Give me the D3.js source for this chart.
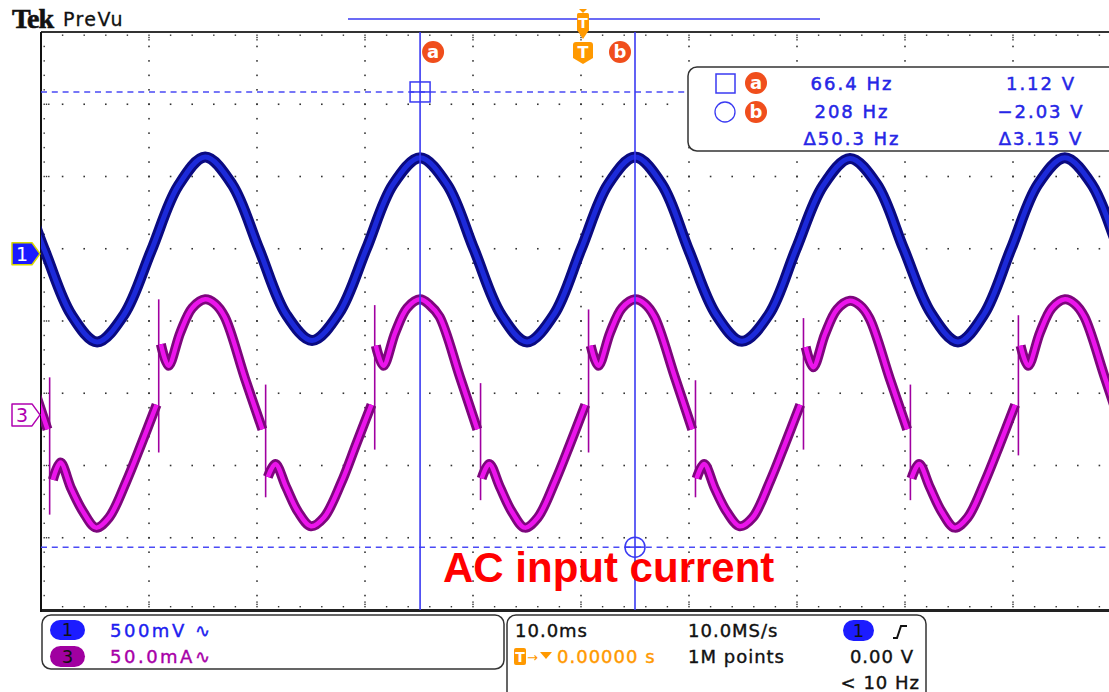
<!DOCTYPE html>
<html>
<head>
<meta charset="utf-8">
<script src="https://cdn.jsdelivr.net/npm/d3@7"></script>
<style>
body { margin: 0; background: #fff; }
svg { display: block; }
text { font-family: "DejaVu Sans", sans-serif; }
</style>
</head>
<body>
<svg id="scope" width="1109" height="692"></svg>
<script>
// scope settings
const msPerDiv = 10;
const ch1VoltsPerDiv = 0.5;
const ch3MaPerDiv = 50;
const ch1Pos = 0.93;    // divisions above centre
const ch3Pos = -1.30;

// channel 1 (blue), time in ms, volts
const blueT = [-54.7,-52.2,-49.7,-47.2,-44.8,-42.3,-39.8,-37.3,-34.8,-32.3,-29.8,-27.3,-24.9,-22.4,-19.9,-17.4,
  -14.9,-12.4,-9.9,-7.4,-5.0,-2.5,0.0,2.5,5.0,7.5,10.0,12.5,14.9,17.4,19.9,22.4,24.9,27.4,29.9,32.4,34.9,37.3,
  39.8,42.3,44.8,47.3,49.8,52.3,54.7];
const blueV = [0.66,0.48,0.03,-0.42,-0.61,-0.42,0.02,0.47,0.67,
  0.48,0.03,-0.42,-0.60,-0.41,0.03,0.48,0.665,
  0.48,0.03,-0.42,-0.61,-0.42,0.03,0.48,0.67,
  0.48,0.02,-0.42,-0.605,-0.42,0.03,0.47,0.66,
  0.48,0.03,-0.41,-0.61,-0.42,0.03,0.48,0.665,
  0.48,0.03,-0.42,-0.61];

// channel 3 (magenta), time in ms, mA ; null = break at the switching step
const magT = [-53.8,-52.9,-51.0,-49.4, null,
  -48.9,-48.2,-47.2,-46.1,-44.9,-43.7,-42.1,-40.7,-39.3, null,
  -38.9,-38.2,-37.1,-36.0,-34.8,-33.9,-33.0,-31.1,-29.5, null,
  -29.0,-28.3,-27.3,-26.2,-25.0,-23.8,-22.2,-20.8,-19.4, null,
  -19.0,-18.3,-17.2,-16.1,-14.9,-14.0,-13.1,-11.2,-9.6, null,
  -9.2,-8.5,-7.5,-6.4,-5.2,-4.0,-2.4,-1.0,0.4, null,
  0.9,1.6,2.7,3.8,5.0,5.9,6.8,8.7,10.3, null,
  10.7,11.4,12.4,13.5,14.7,15.9,17.5,18.9,20.3, null,
  20.8,21.5,22.6,23.7,24.9,25.8,26.7,28.6,30.2, null,
  30.6,31.3,32.3,33.4,34.6,35.8,37.4,38.8,40.2, null,
  40.7,41.4,42.5,43.6,44.8,45.7,46.6,48.5,50.1];
const magI = [76,67,26,-10, null,
  -45,-33,-51,-67,-78,-71,-46,-20,7, null,
  49,34,57,74,80,77,68,25,-10, null,
  -43,-34,-50,-67,-77,-71,-47,-20,7, null,
  48,34,57,74,80,76,68,26,-10, null,
  -44,-34,-50,-67,-78,-71,-46,-20,7, null,
  48,34,57,74,80,77,68,26,-10, null,
  -44,-34,-51,-67,-77,-71,-46,-20,7, null,
  47,33,56,73,79,76,67,25,-10, null,
  -44,-34,-50,-67,-78,-71,-46,-20,7, null,
  48,34,57,74,80,77,68,26,-10];

// thin switching spikes on channel 3
const spikeT  = [-49.2,-39.1,-29.2,-19.1,-9.3,0.7,10.6,20.6,30.5,40.5];
const spikeHi = [26,80,21,76,22,73,24,67,21,69];
const spikeLo = [-69,-26,-57,-24,-59,-26,-57,-24,-59,-28];

// cursors
const cursorT = [-14.9, 5.0];
const cursorV = [1.12, -2.03];
const readFreq = ["66.4 Hz", "208 Hz", "\u039450.3 Hz"];
const readVolt = ["1.12 V", "\u22122.03 V", "\u03943.15 V"];

const svg = d3.select("#scope");
const plot = { left: 41, top: 32, width: 1080, height: 578 };

const x = d3.scaleLinear().domain([-5 * msPerDiv, 5 * msPerDiv]).range([plot.left, plot.left + plot.width]);
const yDiv = d3.scaleLinear().domain([-4, 4]).range([plot.top + plot.height, plot.top]);
const y1 = v => yDiv(ch1Pos + v / ch1VoltsPerDiv);
const y3 = i => yDiv(ch3Pos + i / ch3MaPerDiv);

const blue = "#3a3af2";
const orange = "#ff9900";
const red = "#f04e1c";

svg.append("clipPath").attr("id", "clip")
  .append("rect").attr("x", plot.left).attr("y", plot.top)
  .attr("width", plot.width).attr("height", plot.height);

//
// graticule dots
//
const grid = svg.append("g").attr("fill", "#333");
const minorX = d3.range(1, 50).map(i => x(-50 + i * 2));
const minorY = d3.range(1, 40).map(j => yDiv(-4 + j * 0.2));
const majorX = d3.range(1, 10).map(i => x(-50 + i * 10));
const majorY = d3.range(1, 8).map(j => yDiv(-4 + j));

majorY.forEach(yy => {
  minorX.forEach(xx => grid.append("rect").attr("x", xx - 0.8).attr("y", yy - 0.8).attr("width", 1.6).attr("height", 1.6));
});
majorX.forEach(xx => {
  minorY.forEach(yy => grid.append("rect").attr("x", xx - 0.8).attr("y", yy - 0.8).attr("width", 1.6).attr("height", 1.6));
});
// edge ticks
const bottom = plot.top + plot.height;
minorX.forEach((xx, i) => {
  let n = (i + 1) % 5 === 0 ? 3 : 1;
  for (let k = 0; k < n; k++) {
    grid.append("rect").attr("x", xx - 0.7).attr("y", plot.top + 2.5 + k * 2.3).attr("width", 1.4).attr("height", 1.4);
    grid.append("rect").attr("x", xx - 0.7).attr("y", bottom - 4 - k * 2.3).attr("width", 1.4).attr("height", 1.4);
  }
});
minorY.forEach((yy, j) => {
  let n = (j + 1) % 5 === 0 ? 3 : 1;
  for (let k = 0; k < n; k++) {
    grid.append("rect").attr("x", plot.left + 2.5 + k * 2.3).attr("y", yy - 0.7).attr("width", 1.4).attr("height", 1.4);
  }
});

// frame
svg.append("line").attr("x1", plot.left).attr("x2", 1109).attr("y1", plot.top).attr("y2", plot.top)
  .attr("stroke", "#333").attr("stroke-width", 2);
svg.append("line").attr("x1", plot.left).attr("x2", 1109).attr("y1", bottom + 0.5).attr("y2", bottom + 0.5)
  .attr("stroke", "#222").attr("stroke-width", 3);
svg.append("line").attr("x1", plot.left).attr("x2", plot.left).attr("y1", plot.top).attr("y2", bottom + 2)
  .attr("stroke", "#111").attr("stroke-width", 2);

//
// traces
//
const traces = svg.append("g").attr("clip-path", "url(#clip)");

const blueLine = d3.line()
  .x(d => x(d[0])).y(d => y1(d[1]))
  .curve(d3.curveCatmullRom.alpha(0.5));
const blueData = blueT.map((t, i) => [t, blueV[i]]);
traces.append("path").datum(blueData).attr("d", blueLine)
  .attr("fill", "none").attr("stroke", "#0a0a80").attr("stroke-width", 11).attr("stroke-linejoin", "round");
traces.append("path").datum(blueData).attr("d", blueLine)
  .attr("fill", "none").attr("stroke", "#1c2ada").attr("stroke-width", 5);

const magLine = d3.line()
  .defined(d => d[0] !== null)
  .x(d => x(d[0])).y(d => y3(d[1]))
  .curve(d3.curveCatmullRom.alpha(0.5));
const magData = magT.map((t, i) => [t, magI[i]]);

traces.selectAll("line.spike")
  .data(spikeT)
  .join("line")
  .attr("class", "spike")
  .attr("x1", d => x(d)).attr("x2", d => x(d))
  .attr("y1", (d, i) => y3(spikeHi[i])).attr("y2", (d, i) => y3(spikeLo[i]))
  .attr("stroke", "#a000a0").attr("stroke-width", 1.6);

traces.append("path").datum(magData).attr("d", magLine)
  .attr("fill", "none").attr("stroke", "#7d067d").attr("stroke-width", 10).attr("stroke-linejoin", "round");
traces.append("path").datum(magData).attr("d", magLine)
  .attr("fill", "none").attr("stroke", "#ec14ec").attr("stroke-width", 4.5);

//
// cursors
//
const cur = svg.append("g");
cursorV.forEach(v => {
  cur.append("line").attr("x1", plot.left).attr("x2", 1109).attr("y1", y1(v)).attr("y2", y1(v))
    .attr("stroke", "#4a4af5").attr("stroke-width", 1.5).attr("stroke-dasharray", "6,4.8");
});
cursorT.forEach(t => {
  cur.append("line").attr("x1", x(t)).attr("x2", x(t)).attr("y1", plot.top).attr("y2", bottom)
    .attr("stroke", blue).attr("stroke-width", 1.6);
});
// square on cursor a, circle on cursor b
let ax = x(cursorT[0]), ay = y1(cursorV[0]);
cur.append("rect").attr("x", ax - 10).attr("y", ay - 10).attr("width", 20).attr("height", 20)
  .attr("fill", "none").attr("stroke", blue).attr("stroke-width", 1.5);
cur.append("line").attr("x1", ax - 10).attr("x2", ax + 10).attr("y1", ay).attr("y2", ay).attr("stroke", blue).attr("stroke-width", 1.5);
let bx = x(cursorT[1]), by = y1(cursorV[1]);
cur.append("circle").attr("cx", bx).attr("cy", by).attr("r", 10)
  .attr("fill", "none").attr("stroke", blue).attr("stroke-width", 1.5);
cur.append("line").attr("x1", bx - 10).attr("x2", bx + 10).attr("y1", by).attr("y2", by).attr("stroke", blue).attr("stroke-width", 1.5);

function badge(g, cx, cy, letter, r) {
  g.append("circle").attr("cx", cx).attr("cy", cy).attr("r", r).attr("fill", red);
  g.append("text").attr("x", cx).attr("y", cy + 6).attr("text-anchor", "middle")
    .attr("fill", "#fff").attr("font-weight", "bold").attr("font-size", 18).text(letter);
}
badge(cur, ax + 13, 52, "a", 11);
badge(cur, bx - 15, 52, "b", 11);

//
// header: Tek PreVu, record bar, trigger marker
//
svg.append("text").attr("x", 12).attr("y", 28)
  .style("font-family", "'Liberation Serif', serif").attr("font-weight", "bold")
  .attr("font-size", 28).attr("letter-spacing", -1).attr("fill", "#111")
  .attr("stroke", "#111").attr("stroke-width", 0.6).text("Tek");
svg.append("text").attr("x", 63).attr("y", 26).attr("font-size", 19).attr("letter-spacing", 1.4)
  .attr("fill", "#111").attr("stroke", "#111").attr("stroke-width", 0.3).text("PreVu");

svg.append("line").attr("x1", 348).attr("x2", 820).attr("y1", 19).attr("y2", 19)
  .attr("stroke", blue).attr("stroke-width", 1.5);

const tx = x(0) + 2;
const trig = svg.append("g").attr("fill", orange);
trig.append("path").attr("d", `M${tx - 4},9 L${tx + 4},9 L${tx},13 Z`);
trig.append("rect").attr("x", tx - 6).attr("y", 13).attr("width", 12).attr("height", 18).attr("rx", 1.5);
trig.append("path").attr("d", `M${tx - 6},30 L${tx + 6},30 L${tx},39 Z`);
trig.append("text").attr("x", tx).attr("y", 28).attr("text-anchor", "middle").attr("fill", "#fff")
  .attr("font-weight", "bold").attr("font-size", 14).text("T");
trig.append("path").attr("d", `M${tx - 10},45 Q${tx - 10},42 ${tx - 7},42 L${tx + 7},42 Q${tx + 10},42 ${tx + 10},45 L${tx + 10},58 L${tx},64 L${tx - 10},58 Z`);
trig.append("text").attr("x", tx).attr("y", 58).attr("text-anchor", "middle").attr("fill", "#fff")
  .attr("font-weight", "bold").attr("font-size", 16).text("T");

//
// channel ground markers
//
function marker(yy, label, fill, stroke, txt) {
  let g = svg.append("g");
  g.append("path").attr("d", `M12,${yy - 11} L32,${yy - 11} L40,${yy} L32,${yy + 11} L12,${yy + 11} Z`)
    .attr("fill", fill).attr("stroke", stroke).attr("stroke-width", 1.5).attr("stroke-linejoin", "round");
  g.append("text").attr("x", 22).attr("y", yy + 7).attr("text-anchor", "middle")
    .attr("font-size", 19).attr("fill", txt).text(label);
}
marker(y1(0), "1", "#1a1aff", "#d8d800", "#fff");
marker(y3(0), "3", "#fff", "#b000b0", "#b000b0");

//
// cursor readout box
//
const rb = svg.append("g");
rb.append("rect").attr("x", 688).attr("y", 67).attr("width", 460).attr("height", 84).attr("rx", 9)
  .attr("fill", "#fff").attr("stroke", "#333").attr("stroke-width", 1.5);
rb.append("rect").attr("x", 716).attr("y", 74).attr("width", 19).attr("height", 19)
  .attr("fill", "none").attr("stroke", blue).attr("stroke-width", 1.5);
rb.append("circle").attr("cx", 725).attr("cy", 112).attr("r", 10)
  .attr("fill", "none").attr("stroke", blue).attr("stroke-width", 1.3);
badge(rb, 756, 83, "a", 11);
badge(rb, 756, 112, "b", 11);
const rowY = [90, 118, 145];
readFreq.forEach((s, i) => {
  rb.append("text").attr("x", 852).attr("y", rowY[i]).attr("text-anchor", "middle")
    .attr("font-size", 18).attr("letter-spacing", 2).attr("fill", "#2626e6")
    .attr("stroke", "#2626e6").attr("stroke-width", 0.5).text(s);
});
readVolt.forEach((s, i) => {
  rb.append("text").attr("x", 1041).attr("y", rowY[i]).attr("text-anchor", "middle")
    .attr("font-size", 18).attr("letter-spacing", 2).attr("fill", "#2626e6")
    .attr("stroke", "#2626e6").attr("stroke-width", 0.5).text(s);
});

//
// annotation
//
svg.append("text").attr("x", 443).attr("y", 582)
  .style("font-family", "'Liberation Sans', Arial, sans-serif").attr("font-weight", "bold")
  .attr("font-size", 42).attr("fill", "#ff0000").text("AC input current");

//
// status bar
//
const sb = svg.append("g");
sb.append("rect").attr("x", 42).attr("y", 615).attr("width", 462).attr("height", 54).attr("rx", 9)
  .attr("fill", "#fff").attr("stroke", "#333").attr("stroke-width", 1.5);
sb.append("rect").attr("x", 507).attr("y", 615).attr("width", 419).attr("height", 90).attr("rx", 9)
  .attr("fill", "#fff").attr("stroke", "#333").attr("stroke-width", 1.5);

function pill(x0, y0, w, h, fill, label) {
  sb.append("rect").attr("x", x0).attr("y", y0).attr("width", w).attr("height", h).attr("rx", h / 2).attr("fill", fill);
  sb.append("text").attr("x", x0 + w / 2).attr("y", y0 + h - 4).attr("text-anchor", "middle")
    .attr("font-size", 18).attr("fill", "#111").text(label);
}
pill(50, 620, 35, 20, "#1c1cff", "1");
pill(50, 646, 35, 21, "#a000a0", "3");
sb.append("text").attr("x", 110).attr("y", 637).attr("font-size", 18).attr("letter-spacing", 2.5)
  .attr("fill", "#2020f0").attr("stroke", "#2020f0").attr("stroke-width", 0.4).text("500mV \u223F");
sb.append("text").attr("x", 110).attr("y", 663).attr("font-size", 18).attr("letter-spacing", 2.5)
  .attr("fill", "#a800a8").attr("stroke", "#a800a8").attr("stroke-width", 0.4).text("50.0mA\u223F");

const st = (xx, yy, s, fill, anchor) => sb.append("text").attr("x", xx).attr("y", yy)
  .attr("font-size", 18).attr("letter-spacing", 1).attr("text-anchor", anchor || "start")
  .attr("fill", fill).attr("stroke", fill).attr("stroke-width", 0.4).text(s);
st(515, 637, "10.0ms", "#111");
st(688, 637, "10.0MS/s", "#111");
st(688, 663, "1M points", "#111");
st(914, 663, "0.00 V", "#111", "end");
st(920, 689, "< 10 Hz", "#111", "end");
pill(843, 620, 31, 21, "#1c1cff", "1");
sb.append("path").attr("d", "M893,638 L897,638 L901,626 L907,626")
  .attr("fill", "none").attr("stroke", "#111").attr("stroke-width", 2);

sb.append("rect").attr("x", 514).attr("y", 648).attr("width", 12).attr("height", 17).attr("rx", 2).attr("fill", orange);
sb.append("text").attr("x", 520).attr("y", 662).attr("text-anchor", "middle").attr("font-weight", "bold")
  .attr("font-size", 14).attr("fill", "#fff").text("T");
sb.append("text").attr("x", 527).attr("y", 662).attr("font-size", 13).attr("fill", orange).text("\u2192");
sb.append("path").attr("d", "M540,652 L552,652 L546,659 Z").attr("fill", orange);
st(557, 663, "0.00000 s", orange);
</script>
</body>
</html>
